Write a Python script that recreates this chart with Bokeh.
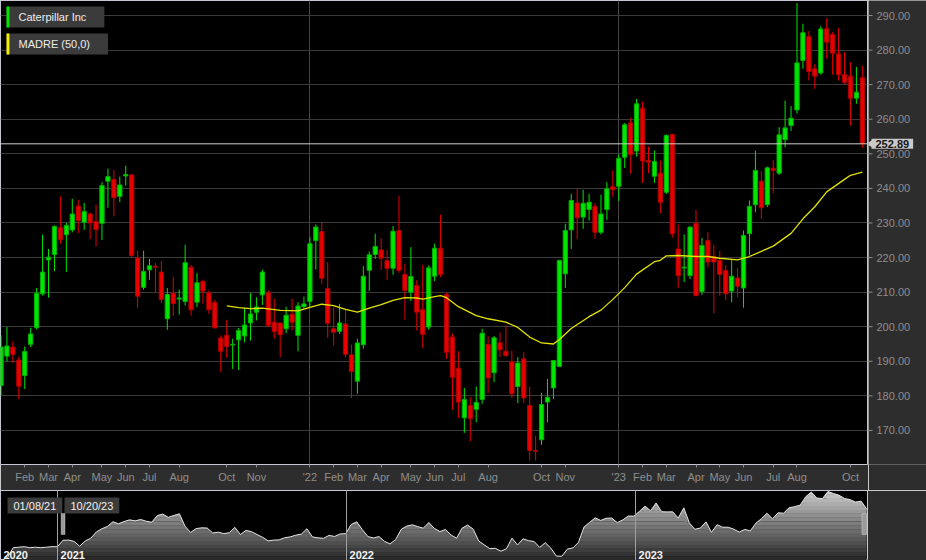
import numpy as np
import pandas as pd
from bokeh.plotting import figure
from bokeh.layouts import column, row
from bokeh.models import (Range1d, FixedTicker, Span, Label, BoxAnnotation, ColumnDataSource)
from bokeh.core.properties import value
from bokeh.embed import file_html
from bokeh.resources import INLINE

# ---------------- data (weekly bars, week starting Monday) ----------------
week_start = pd.date_range("2021-01-04", periods=146, freq="7D")

opens = [183.0, 191.5, 194.1, 190.4, 185.9, 194.9, 199.7, 209.5, 219.3, 220.9,
         228.6, 226.6, 228.0, 234.9, 230.2, 232.6, 230.4, 229.9, 242.1, 242.6,
         237.7, 243.6, 243.9, 219.9, 211.4, 216.45, 217.5, 215.8, 202.3, 209.7,
         208.0, 207.3, 217.2, 207.1, 213.1, 209.8, 207.0, 196.7, 197.5, 194.7,
         196.2, 197.3, 201.1, 204.2, 209.2, 209.8, 201.3, 201.0, 199.4, 203.6,
         197.5, 205.8, 207.3, 224.9, 227.5, 211.0, 199.4, 198.7, 200.8, 191.9,
         184.25, 194.8, 216.3, 220.9, 222.2, 219.1, 216.9, 227.8, 215.1, 210.0,
         211.9, 204.9, 199.9, 214.6, 222.7, 209.3, 197.0, 188.0, 173.65, 177.2,
         176.1, 178.95, 194.85, 186.7, 195.4, 192.9, 189.9, 182.7, 190.7, 177.2,
         164.2, 167.3, 178.2, 182.3, 188.5, 215.3, 228.0, 235.8, 231.7, 233.9,
         234.8, 227.3, 233.9, 240.5, 240.6, 249.0, 258.9, 250.8, 263.2, 248.06,
         243.5, 244.4, 238.9, 255.6, 222.5, 217.0, 214.8, 229.9, 210.2, 224.9,
         220.3, 219.2, 216.3, 210.3, 214.1, 211.2, 226.9, 235.25, 242.1, 235.3,
         245.85, 244.4, 254.1, 258.2, 262.7, 277.0, 283.9, 274.6, 273.4, 286.15,
         284.5, 278.9, 272.9, 272.46, 266.1, 272.0]
highs = [197.5, 199.9, 195.8, 191.4, 194.3, 199.7, 211.2, 226.6, 222.5, 229.3,
         237.7, 230.0, 237.0, 236.7, 235.8, 233.1, 235.3, 241.8, 245.7, 245.4,
         243.4, 246.6, 244.2, 222.0, 222.0, 219.6, 218.4, 219.0, 211.2, 214.4,
         210.7, 223.7, 217.9, 215.5, 213.6, 210.5, 207.8, 197.5, 202.0, 196.5,
         199.6, 205.5, 209.7, 208.5, 216.5, 210.5, 208.1, 201.3, 205.8, 208.1,
         207.1, 208.7, 225.9, 229.6, 230.2, 218.7, 205.7, 206.6, 205.2, 194.8,
         196.5, 217.5, 221.75, 226.9, 225.6, 222.2, 229.1, 237.9, 218.2, 223.0,
         213.4, 217.9, 217.7, 224.0, 232.4, 209.8, 198.0, 192.9, 182.3, 179.6,
         182.7, 199.4, 197.2, 197.3, 198.4, 200.35, 193.1, 191.2, 192.6, 182.7,
         168.5, 180.9, 184.9, 190.4, 219.35, 229.75, 238.4, 239.9, 239.6, 238.4,
         235.7, 238.2, 241.8, 245.2, 249.8, 258.9, 260.4, 265.9, 265.1, 252.1,
         250.95, 248.1, 255.6, 255.8, 229.6, 226.7, 229.0, 233.8, 225.7, 227.3,
         223.7, 221.85, 217.7, 219.6, 217.0, 227.8, 236.5, 250.96, 245.0, 246.3,
         248.2, 257.7, 265.4, 263.8, 293.6, 287.6, 285.5, 276.0, 286.9, 289.2,
         285.2, 286.4, 279.4, 276.5, 275.1, 275.4]
lows = [180.1, 190.0, 189.5, 179.1, 182.0, 194.1, 199.2, 209.0, 208.4, 216.1,
        224.0, 215.8, 227.3, 227.1, 228.0, 225.4, 223.2, 225.1, 234.4, 231.9,
        236.0, 240.8, 219.9, 205.5, 210.7, 213.6, 210.0, 206.8, 199.1, 203.2,
        203.5, 206.1, 203.2, 205.7, 206.6, 203.7, 199.4, 186.9, 191.0, 187.8,
        187.5, 195.5, 196.0, 201.8, 206.3, 199.9, 196.5, 191.2, 198.1, 198.9,
        192.9, 205.2, 205.8, 216.5, 212.4, 196.8, 194.6, 197.9, 191.2, 179.4,
        180.6, 193.6, 210.3, 219.6, 216.4, 213.55, 215.0, 215.6, 202.0, 207.4,
        198.9, 193.8, 199.1, 213.2, 214.3, 190.7, 176.0, 173.6, 169.3, 166.9,
        172.4, 177.7, 180.8, 184.0, 191.2, 191.2, 179.4, 177.9, 177.9, 161.3,
        161.3, 165.8, 172.4, 179.1, 188.3, 211.2, 222.5, 225.4, 228.3, 230.7,
        225.4, 226.7, 230.9, 237.5, 236.3, 245.9, 244.2, 249.2, 241.6, 244.4,
        241.6, 232.8, 238.4, 225.7, 211.2, 212.9, 213.8, 208.8, 209.2, 217.2,
        203.9, 209.0, 207.8, 207.1, 208.6, 205.5, 220.6, 233.1, 231.2, 234.6,
        238.6, 243.9, 251.9, 256.6, 261.6, 274.6, 271.2, 268.8, 272.9, 277.5,
        272.9, 271.2, 270.2, 258.2, 264.5, 251.7]
closes = [194.1, 194.4, 192.0, 182.8, 192.8, 197.9, 209.7, 215.8, 220.1, 229.0,
          225.2, 229.3, 232.6, 230.7, 233.3, 230.0, 228.1, 240.8, 243.4, 237.3,
          241.0, 244.0, 220.6, 208.8, 216.0, 217.6, 217.2, 207.9, 209.3, 206.7,
          208.3, 218.5, 204.9, 212.7, 210.3, 204.9, 199.7, 192.9, 194.3, 194.9,
          198.9, 200.5, 203.7, 205.7, 215.8, 200.4, 198.6, 197.7, 203.3, 201.3,
          206.0, 206.6, 224.0, 228.8, 214.0, 201.0, 198.4, 201.1, 192.0, 187.05,
          195.3, 214.6, 220.8, 223.2, 219.8, 216.9, 227.6, 216.3, 210.5, 214.5,
          204.2, 197.8, 217.0, 222.7, 215.1, 192.6, 185.4, 178.2, 178.95, 173.4,
          178.1, 198.1, 185.2, 196.8, 193.3, 191.7, 180.6, 189.5, 179.4, 164.2,
          164.0, 177.5, 179.6, 190.2, 219.15, 227.8, 236.5, 231.5, 235.7, 236.0,
          227.3, 232.6, 239.9, 239.6, 248.7, 258.4, 249.8, 264.45, 247.9, 247.6,
          247.8, 236.0, 255.3, 226.9, 214.8, 217.2, 228.8, 209.0, 223.5, 218.7,
          218.7, 215.1, 209.5, 214.6, 211.7, 226.4, 234.8, 245.2, 234.4, 245.95,
          245.2, 255.5, 257.5, 260.3, 276.3, 285.0, 273.8, 272.46, 286.1, 282.3,
          279.1, 272.9, 270.7, 266.1, 267.8, 252.89]

# MADRE (50,0) line: bar index -> value
ma_idx = [38, 40, 42, 44, 47, 50, 52, 54, 56, 58, 60, 62, 64, 66, 68, 70, 71, 73,
          74, 75, 77, 80, 82, 85, 87, 89, 91, 93, 94, 96, 99, 101, 103, 105, 107,
          110, 111, 112, 114, 117, 119, 121, 124, 126, 128, 130, 133, 135, 137,
          139, 142, 143, 145]
ma_val = [206.0, 205.5, 205.2, 205.4, 204.7, 204.6, 205.6, 206.5, 206.1, 205.0,
          204.2, 205.4, 206.4, 207.6, 208.4, 208.3, 208.0, 208.7, 209.0, 208.4,
          205.8, 203.2, 202.3, 201.3, 199.8, 197.0, 195.3, 195.0, 196.3, 199.5,
          202.9, 204.8, 207.9, 211.3, 215.2, 218.8, 219.2, 220.5, 220.6, 220.3,
          220.3, 219.8, 219.3, 220.3, 221.8, 223.3, 227.0, 231.2, 234.7, 239.0,
          242.6, 243.8, 244.7]

tick_months = ["2021-02-01", "2021-03-01", "2021-04-01", "2021-05-01", "2021-06-01",
               "2021-07-01", "2021-08-01", "2021-10-01", "2021-11-01", "2022-01-01",
               "2022-02-01", "2022-03-01", "2022-04-01", "2022-05-01", "2022-06-01",
               "2022-07-01", "2022-08-01", "2022-10-01", "2022-11-01", "2023-01-01",
               "2023-02-01", "2023-03-01", "2023-04-01", "2023-05-01", "2023-06-01",
               "2023-07-01", "2023-08-01", "2023-10-01"]
tick_labels = ["Feb", "Mar", "Apr", "May", "Jun", "Jul", "Aug", "Oct", "Nov", "'22",
               "Feb", "Mar", "Apr", "May", "Jun", "Jul", "Aug", "Oct", "Nov", "'23",
               "Feb", "Mar", "Apr", "May", "Jun", "Jul", "Aug", "Oct"]
year_starts = ["2022-01-01", "2023-01-01"]
y_ticks = [170, 180, 190, 200, 210, 220, 230, 240, 250, 260, 270, 280, 290]

# navigator: weekly closes before the visible window
pre_dates = ["2020-10-23", "2020-10-30", "2020-11-06", "2020-11-13", "2020-11-20",
             "2020-11-27", "2020-12-04", "2020-12-11", "2020-12-18", "2020-12-25",
             "2021-01-01"]
pre_closes = [156.5, 162.0, 180.0, 181.0, 182.0, 180.0, 181.0, 180.0, 181.0, 182.0, 182.0]
nav_years = ["2021-01-01", "2022-01-01", "2023-01-01"]
nav_year_labels = ["2020", "2021", "2022", "2023"]

series_name = "Caterpillar Inc"
ma_name = "MADRE (50,0)"
last_price = closes[-1]
window_start = "01/08/21"
window_end = "10/20/23"

# ---------------- styling constants ----------------
FONT = "Liberation Sans"
BG = "#000000"
PANEL = "#2d2d2d"
GRID = "#3b3b3b"
AXIS_TXT = "#8e8e8e"
BORDER = "#c5c7d3"
UP, DOWN = "#00e600", "#e60000"
UP_L, DOWN_L = "#00b000", "#b00000"

W = 926
RIGHT = 58
FRAME_H = 464
BAND = 26
MAIN_H = FRAME_H + BAND
NAV_H = 70
MAIN_W = W - RIGHT

def ms(s):
    return pd.Timestamp(s).value / 1e6

n = len(closes)
idx = np.arange(n)
o = np.array(opens); c = np.array(closes)
up = c >= o
src = ColumnDataSource(dict(
    x=idx, h=highs, l=lows,
    top=np.maximum(o, c), bottom=np.minimum(o, c),
    fill=[UP if u else DOWN for u in up],
    line=[UP_L if u else DOWN_L for u in up],
))

x0, x1 = -0.084, 145.87
y0, y1 = 160.15, 294.34
yr = Range1d(y0, y1)

p = figure(width=MAIN_W, height=MAIN_H, x_range=Range1d(x0, x1), y_range=yr,
           y_axis_location=None, output_backend="svg", toolbar_location=None,
           background_fill_color=BG, border_fill_color=PANEL,
           min_border_left=0, min_border_top=0, min_border_right=1, min_border_bottom=BAND)
p.outline_line_color = BORDER
p.outline_line_width = 1

# x axis
week_end = week_start + pd.Timedelta(days=4)
tick_pos = [int(np.argmax(week_end >= pd.Timestamp(m))) for m in tick_months]
p.xaxis.ticker = FixedTicker(ticks=tick_pos)
p.xaxis.major_label_overrides = {t: lab for t, lab in zip(tick_pos, tick_labels)}
p.xaxis.axis_line_color = None
p.xaxis.major_tick_line_color = AXIS_TXT
p.xaxis.minor_tick_line_color = None
p.xaxis.major_tick_in = 0
p.xaxis.major_tick_out = 3
p.xaxis.major_label_standoff = 3
p.xaxis.major_label_text_color = AXIS_TXT
p.xaxis.major_label_text_font = FONT
p.xaxis.major_label_text_font_size = "11px"

year_pos = [int(np.argmax(week_start >= pd.Timestamp(y))) for y in year_starts]
p.xgrid.ticker = FixedTicker(ticks=year_pos)
p.ygrid.ticker = FixedTicker(ticks=y_ticks)
p.xgrid.grid_line_color = "#444444"
p.ygrid.grid_line_color = GRID

# candles
p.segment(x0="x", y0="l", x1="x", y1="h", line_color="fill", line_width=1, source=src)
p.vbar(x="x", width=0.72, top="top", bottom="bottom", fill_color="fill",
       line_color="line", line_width=1, source=src)

# moving average
p.line(ma_idx, ma_val, line_color="#e2e200", line_width=1.3)

# last price line
p.add_layout(Span(location=last_price, dimension="width", line_color="#cfcfcf", line_width=1))

# legend boxes
for k, (name, col) in enumerate([(series_name, "#00e600"), (ma_name, "#f0f000")]):
    yo = -6 - 27 * k
    p.add_layout(Label(x=x0, y=y1, x_offset=6, y_offset=yo, anchor="top_left",
                       text=name, text_font=FONT, text_font_size="11px",
                       text_color="#ececec", background_fill_color="#3b3b3b",
                       padding=dict(left=12, right=18, top=4, bottom=5)))
    p.add_layout(Label(x=x0, y=y1, x_offset=6, y_offset=yo, anchor="top_left",
                       text="\u200a", text_font=FONT, text_font_size="11px",
                       text_color=col, background_fill_color=col,
                       padding=dict(left=1, right=1, top=4, bottom=5)))

# ---------------- price scale panel (right) ----------------
ax = figure(width=RIGHT, height=MAIN_H, x_range=Range1d(0, RIGHT), y_range=yr,
            x_axis_location=None, y_axis_location=None, output_backend="svg",
            toolbar_location=None, background_fill_color=PANEL, border_fill_color=PANEL,
            min_border_left=0, min_border_top=0, min_border_right=0, min_border_bottom=BAND)
ax.grid.visible = False
ax.outline_line_color = None
ax.segment(x0=[0] * len(y_ticks), x1=[4] * len(y_ticks), y0=y_ticks, y1=y_ticks,
           line_color=AXIS_TXT, line_width=1)
ax.text(x=[8] * len(y_ticks), y=y_ticks, text=[f"{v:.2f}" for v in y_ticks],
        text_font=value(FONT), text_font_size="11px", text_color=AXIS_TXT,
        text_baseline="middle", text_align="left")
ax.scatter(x=[1.5], y=[last_price], marker="triangle", angle=np.pi / 2, size=7,
           fill_color="#c9c9c9", line_color=None)
ax.add_layout(Label(x=3, y=last_price, text=f"{last_price:.2f}", anchor="center_left",
                    text_font=FONT, text_font_size="11px", text_font_style="bold",
                    text_color="#151515", background_fill_color="#c9c9c9",
                    padding=dict(left=4, right=4, top=1, bottom=1)))

# ---------------- navigator ----------------
nav_x = list(pd.to_datetime(pre_dates)) + list(week_end)
nav_c = np.array(pre_closes + closes)
nv0, nv1 = 155.9, 288.0
nx0, nx1 = ms("2020-10-21"), ms("2023-10-21")

nav = figure(width=W, height=NAV_H, x_range=Range1d(nx0, nx1), y_range=Range1d(nv0, nv1),
             x_axis_location=None, y_axis_location=None, output_backend="svg",
             toolbar_location=None, background_fill_color=BG, border_fill_color=PANEL,
             min_border_left=0, min_border_top=0, min_border_bottom=0, min_border_right=59)
nav.grid.visible = False
nav.outline_line_color = BORDER

N = 18
levels = np.linspace(nv0, nv1, N + 1)
for k in range(N):
    g = int(38 + (205 - 38) * (k + 0.5) / N)
    col = "#%02x%02x%02x" % (g, g, g)
    nav.varea(x=nav_x, y1=np.minimum(nav_c, levels[k]),
              y2=np.minimum(nav_c, levels[k + 1] + 0.4), fill_color=col)
nav.line(nav_x, nav_c, line_color="#e6e6e6", line_width=1)

for ys in nav_years:
    nav.add_layout(Span(location=ms(ys), dimension="height", line_color="#a0a0a0", line_width=1))
for lab, xs in zip(nav_year_labels, [nx0] + [ms(y) for y in nav_years]):
    nav.add_layout(Label(x=xs, y=nv0, x_offset=3, y_offset=2, anchor="bottom_left", text=lab,
                         text_font=FONT, text_font_size="11px", text_font_style="bold",
                         text_color="#f2f2f2"))

for k, lab in enumerate([window_start, window_end]):
    nav.add_layout(Label(x=nx0, y=nv1, x_offset=7 + 57 * k, y_offset=-7, anchor="top_left",
                         text=lab, text_font=FONT, text_font_size="11px", text_color="#f0f0f0",
                         background_fill_color="#3b3b3b",
                         padding=dict(left=6, right=6, top=2, bottom=2)))

day = 86400000.0
ws = ms(pd.Timestamp(window_start))
we = ms(pd.Timestamp(window_end))
for a, b in [(ws - 2.5 * day, ws + 2.5 * day), (we - 6 * day, we)]:
    nav.add_layout(BoxAnnotation(left=a, right=b, bottom=205.0, top=244.5,
                                 fill_color="#9a9a9a", fill_alpha=1.0,
                                 line_color="#ffffff", line_width=1))

layout = column(row(p, ax, spacing=0), nav, spacing=0)
open("out.html", "w").write(file_html(layout, INLINE))
